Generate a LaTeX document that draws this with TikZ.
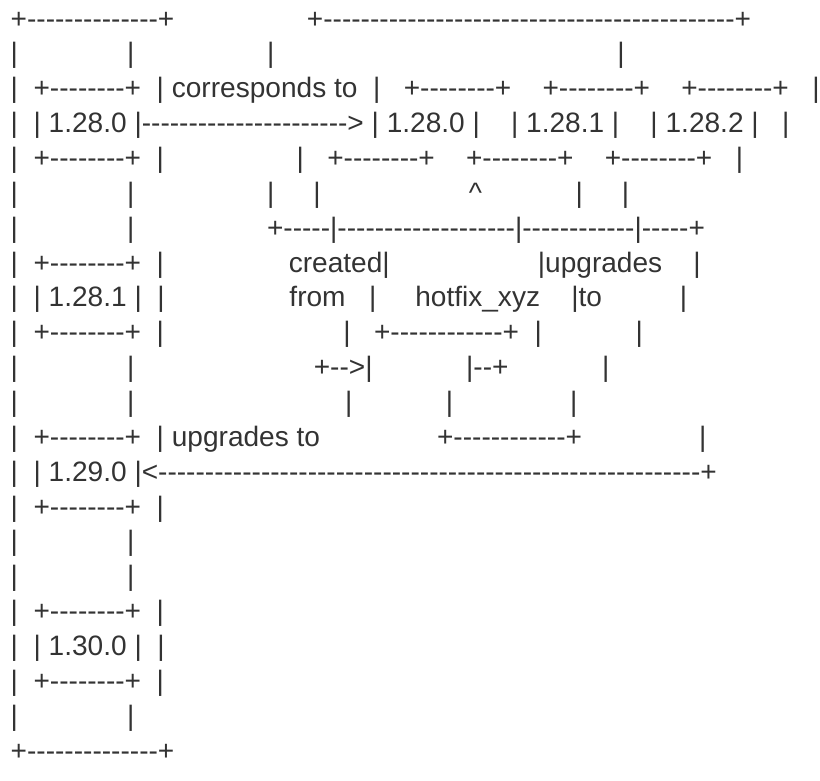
\documentclass[tikz,border=0pt]{standalone}
\usepackage{fontspec}
\newfontfamily\asc{Liberation Sans}[Ligatures=NoCommon]
\definecolor{ink}{HTML}{333333}
% \Sp{n}: n word spaces, \Dh{n}: n hyphens
\ExplSyntaxOn
\NewDocumentCommand\Sp{m}{\hspace*{#1\fontdimen2\font}}
\NewDocumentCommand\Dh{m}{\prg_replicate:nn{#1}{-}}
\ExplSyntaxOff
\tikzset{
  asciiline/.style={anchor=base west, inner sep=0pt, outer sep=0pt, text=ink,
    font=\asc\fontsize{28.07}{34}\selectfont\frenchspacing},
}
\newcommand\lx{10.7pt}
\newcommand\lsp{34.86}
\begin{document}
\begin{tikzpicture}[x=1pt,y=1pt]
\useasboundingbox (0,0) rectangle (820,-780);
\node[asciiline] (l1)  at (\lx,{-28-0*\lsp}) {+\Dh{14}+\Sp{17}+\Dh{44}+};
\node[asciiline] (l2)  at (\lx,{-28-1*\lsp}) {|\Sp{14}|\Sp{17}|\Sp{44}|};
\node[asciiline] (l3)  at (\lx,{-28-2*\lsp}) {|\Sp{2}+\Dh{8}+\Sp{2}|\Sp{1}corresponds\Sp{1}to\Sp{2}|\Sp{3}+\Dh{8}+\Sp{4}+\Dh{8}+\Sp{4}+\Dh{8}+\Sp{3}|};
\node[asciiline] (l4)  at (\lx,{-28-3*\lsp}) {|\Sp{2}|\Sp{1}1.28.0\Sp{1}|\Dh{22}>\Sp{1}|\Sp{1}1.28.0\Sp{1}|\Sp{4}|\Sp{1}1.28.1\Sp{1}|\Sp{4}|\Sp{1}1.28.2\Sp{1}|\Sp{3}|};
\node[asciiline] (l5)  at (\lx,{-28-4*\lsp}) {|\Sp{2}+\Dh{8}+\Sp{2}|\Sp{17}|\Sp{3}+\Dh{8}+\Sp{4}+\Dh{8}+\Sp{4}+\Dh{8}+\Sp{3}|};
\node[asciiline] (l6)  at (\lx,{-28-5*\lsp}) {|\Sp{14}|\Sp{17}|\Sp{5}|\Sp{19}\textasciicircum\Sp{12}|\Sp{5}|};
\node[asciiline] (l7)  at (\lx,{-28-6*\lsp}) {|\Sp{14}|\Sp{17}+\Dh{5}|\Dh{19}|\Dh{12}|\Dh{5}+};
\node[asciiline] (l8)  at (\lx,{-28-7*\lsp}) {|\Sp{2}+\Dh{8}+\Sp{2}|\Sp{16}created|\Sp{19}|upgrades\Sp{4}|};
\node[asciiline] (l9)  at (\lx,{-28-8*\lsp}) {|\Sp{2}|\Sp{1}1.28.1\Sp{1}|\Sp{2}|\Sp{16}from\Sp{3}|\Sp{5}hotfix\_xyz\Sp{4}|to\Sp{10}|};
\node[asciiline] (l10) at (\lx,{-28-9*\lsp}) {|\Sp{2}+\Dh{8}+\Sp{2}|\Sp{23}|\Sp{3}+\Dh{12}+\Sp{2}|\Sp{12}|};
\node[asciiline] (l11) at (\lx,{-28-10*\lsp}) {|\Sp{14}|\Sp{23}+\Dh{2}>|\Sp{12}|\Dh{2}+\Sp{12}|};
\node[asciiline] (l12) at (\lx,{-28-11*\lsp}) {|\Sp{14}|\Sp{27}|\Sp{12}|\Sp{15}|};
\node[asciiline] (l13) at (\lx,{-28-12*\lsp}) {|\Sp{2}+\Dh{8}+\Sp{2}|\Sp{1}upgrades\Sp{1}to\Sp{15}+\Dh{12}+\Sp{15}|};
\node[asciiline] (l14) at (\lx,{-28-13*\lsp}) {|\Sp{2}|\Sp{1}1.29.0\Sp{1}|<\Dh{58}+};
\node[asciiline] (l15) at (\lx,{-28-14*\lsp}) {|\Sp{2}+\Dh{8}+\Sp{2}|};
\node[asciiline] (l16) at (\lx,{-28-15*\lsp}) {|\Sp{14}|};
\node[asciiline] (l17) at (\lx,{-28-16*\lsp}) {|\Sp{14}|};
\node[asciiline] (l18) at (\lx,{-28-17*\lsp}) {|\Sp{2}+\Dh{8}+\Sp{2}|};
\node[asciiline] (l19) at (\lx,{-28-18*\lsp}) {|\Sp{2}|\Sp{1}1.30.0\Sp{1}|\Sp{2}|};
\node[asciiline] (l20) at (\lx,{-28-19*\lsp}) {|\Sp{2}+\Dh{8}+\Sp{2}|};
\node[asciiline] (l21) at (\lx,{-28-20*\lsp}) {|\Sp{14}|};
\node[asciiline] (l22) at (\lx,{-28-21*\lsp}) {+\Dh{14}+};
\end{tikzpicture}
\end{document}
